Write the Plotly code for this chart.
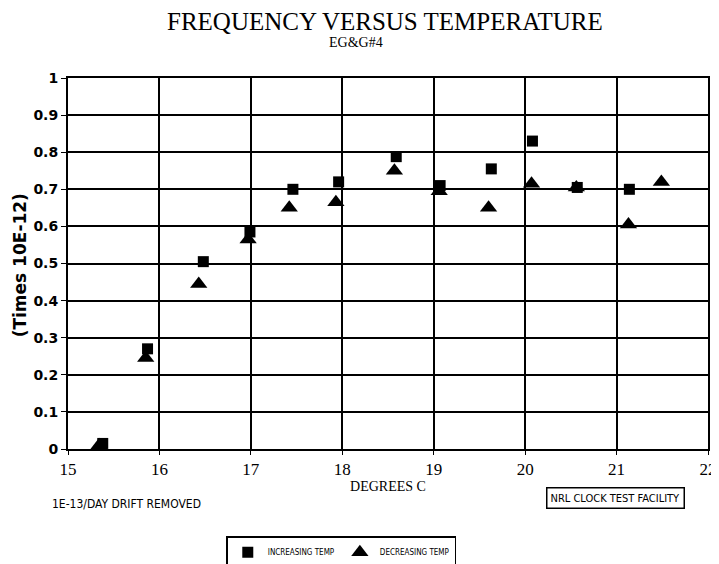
import plotly.graph_objects as go

inc_x = [15.38, 15.87, 16.48, 16.99, 17.46, 17.96, 18.59, 19.07, 19.63, 20.08, 20.57, 21.14]
inc_y = [0.015, 0.27, 0.505, 0.585, 0.70, 0.72, 0.788, 0.71, 0.755, 0.83, 0.705, 0.70]
dec_x = [15.34, 15.85, 16.43, 16.97, 17.42, 17.93, 18.57, 19.06, 19.60, 20.07, 20.56, 21.13, 21.49]
dec_y = [0.01, 0.245, 0.445, 0.565, 0.65, 0.665, 0.75, 0.695, 0.65, 0.715, 0.705, 0.605, 0.72]

x_ticks = [15, 16, 17, 18, 19, 20, 21, 22]
y_ticks = [0, 0.1, 0.2, 0.3, 0.4, 0.5, 0.6, 0.7, 0.8, 0.9, 1]
y_labels = ["0", "0.1", "0.2", "0.3", "0.4", "0.5", "0.6", "0.7", "0.8", "0.9", "1"]

fig = go.Figure()
fig.add_trace(go.Scatter(x=inc_x, y=inc_y, mode="markers", name="INCREASING TEMP",
                         marker=dict(symbol="square", size=11, color="black")))
fig.add_trace(go.Scatter(x=dec_x, y=dec_y, mode="markers", name="DECREASING TEMP",
                         marker=dict(symbol="triangle-up", size=15, color="black")))

fig.update_layout(
    width=719, height=556,
    margin=dict(l=60, r=19, t=70, b=115, autoexpand=False),
    paper_bgcolor="white", plot_bgcolor="white",
    font=dict(family="Liberation Serif", color="black"),
    showlegend=True,
    legend=dict(orientation="h", x=0.427, xanchor="center", y=-0.235, yanchor="top",
                bordercolor="black", borderwidth=1.5,
                font=dict(family="DejaVu Sans Condensed", size=8, color="black"),
                itemwidth=30, tracegroupgap=0),
    xaxis=dict(range=[15, 22], tickvals=x_ticks, ticktext=[str(v) for v in x_ticks],
               automargin=False,
               showgrid=True, gridcolor="black", gridwidth=1.5,
               showline=True, linecolor="black", linewidth=2, mirror=True,
               ticks="outside", ticklen=4, tickcolor="black", zeroline=False,
               tickfont=dict(family="Liberation Serif", size=17, color="black"),
               title=dict(text="DEGREES C", standoff=0,
                          font=dict(family="Liberation Serif", size=14, color="black"))),
    yaxis=dict(range=[0, 1], tickvals=y_ticks, ticktext=["<b>%s</b>" % t for t in y_labels],
               automargin=False,
               showgrid=True, gridcolor="black", gridwidth=1.5,
               showline=True, linecolor="black", linewidth=2, mirror=True,
               ticks="outside", ticklen=5, tickcolor="black", zeroline=False,
               tickfont=dict(family="DejaVu Sans", size=14, color="black"),
               ),
    annotations=[
        dict(text="FREQUENCY VERSUS TEMPERATURE", xref="paper", yref="paper",
             x=0.495, y=1.153, xanchor="center", yanchor="middle", showarrow=False,
             font=dict(family="Liberation Serif", size=25, color="black")),
        dict(text="EG&amp;G#4", xref="paper", yref="paper",
             x=0.45, y=1.095, xanchor="center", yanchor="middle", showarrow=False,
             font=dict(family="Liberation Serif", size=14, color="black")),
        dict(text="<b>(Times 10E-12)</b>", xref="paper", yref="paper", x=-0.075, y=0.495,
             textangle=-90, showarrow=False, xanchor="center", yanchor="middle",
             font=dict(family="DejaVu Sans", size=17, color="black")),
        dict(text="1E-13/DAY DRIFT REMOVED", xref="paper", yref="paper", x=-0.028, y=-0.147,
             xanchor="left", yanchor="middle", showarrow=False,
             font=dict(family="DejaVu Sans Condensed", size=12, color="black")),
        dict(text="NRL CLOCK TEST FACILITY", xref="paper", yref="paper", x=0.855, y=-0.132,
             xanchor="center", yanchor="middle", showarrow=False,
             bordercolor="black", borderwidth=1.5, borderpad=3,
             font=dict(family="DejaVu Sans Condensed", size=11, color="black")),
    ],
)

fig.write_html("out.html")
